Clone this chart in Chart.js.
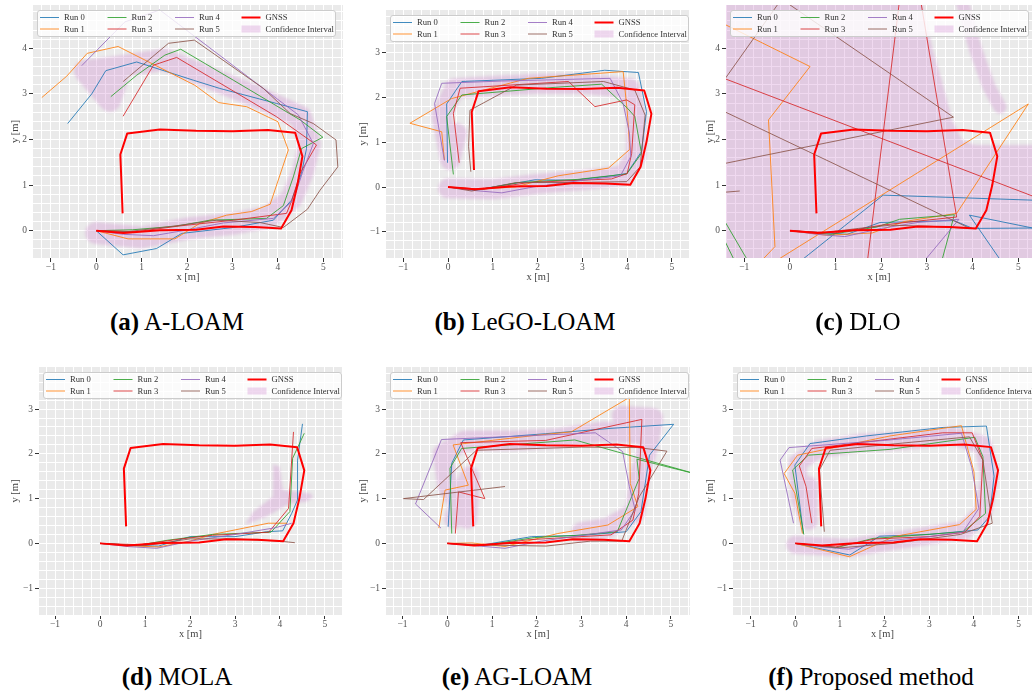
<!DOCTYPE html>
<html>
<head>
<meta charset="utf-8">
<script src="https://cdn.jsdelivr.net/npm/chart.js@4.4.0/dist/chart.umd.min.js"></script>
<style>
  html, body { margin: 0; padding: 0; background: #fff; width: 1032px; height: 693px; overflow: hidden; }
  canvas { position: absolute; }
  .cap { position: absolute; width: 344px; text-align: center; font-family: "Liberation Serif", serif;
         font-size: 25px; line-height: 30px; color: #000; white-space: nowrap; }
</style>
</head>
<body>
<script>
// labels
const runLabels = ['Run 0', 'Run 1', 'Run 2', 'Run 3', 'Run 4', 'Run 5'];
const gnssLabel = 'GNSS';
const ciLabel = 'Confidence Interval';
const panelTags = ['(a)', '(b)', '(c)', '(d)', '(e)', '(f)'];
const methods = ['A-LOAM', 'LeGO-LOAM', 'DLO', 'MOLA', 'AG-LOAM', 'Proposed method'];

// reference trajectory, shared by all panels
const gnss = [[0,0],[0.6,-0.05],[1.4,0.01],[2.2,0.02],[2.8,0.09],[3.5,0.08],[4.07,0.05],[4.3,0.45],[4.43,1.0],[4.54,1.63],[4.38,2.15],[3.78,2.21],[3.0,2.18],[2.2,2.19],[1.4,2.22],[0.68,2.13],[0.53,1.67],[0.58,0.38]];

// (a) A-LOAM
const aRun0 = [[0,0],[0.59,-0.53],[1.33,-0.39],[1.88,-0.06],[3.02,0.07],[3.9,0.23],[4.3,0.67],[4.52,1.26],[4.63,1.8],[4.65,2.61],[3.97,2.79],[2.72,3.12],[2.14,3.3],[0.89,3.7],[0.21,3.51],[-0.1,3.0],[-0.63,2.35]];
const aRun1 = [[0,0],[0.7,-0.18],[1.73,-0.18],[2.28,0.16],[2.87,0.34],[3.42,0.42],[3.83,0.58],[4.23,1.77],[4.0,2.39],[3.31,2.72],[2.69,2.81],[2.17,3.19],[0.48,4.04],[-0.2,3.89],[-0.65,3.39],[-1.2,2.92]];
const aRun2 = [[0,0],[0.8,0.02],[1.77,0.1],[2.5,0.23],[3.75,0.27],[4.12,0.55],[4.34,1.18],[4.52,1.8],[4.99,2.05],[4.49,2.43],[3.02,3.3],[1.86,3.98],[1.51,3.85],[0.89,3.41],[0.32,2.94]];
const aRun3 = [[0,0],[0.9,-0.02],[1.8,0.1],[3.02,0.23],[4.19,0.38],[4.3,0.64],[4.49,1.26],[4.85,1.88],[3.97,2.5],[1.77,3.8],[1.26,3.63],[0.59,2.51]];
const aRun4 = [[0,0],[0.6,-0.08],[1.26,-0.11],[1.9,0.0],[2.8,0.17],[3.9,0.27],[4.34,0.67],[4.55,1.3],[4.78,1.91],[4.45,2.54],[3.97,2.9],[1.4,4.84],[0.63,4.58],[-0.32,3.62]];
const aRun5 = [[0,0],[0.7,-0.02],[1.7,0.1],[2.65,0.23],[3.6,0.18],[4.12,0.07],[4.65,0.47],[4.93,0.89],[5.32,1.4],[5.28,1.99],[4.78,2.35],[4.27,2.57],[3.68,3.12],[2.16,4.18],[1.59,4.11],[0.59,3.27]];
const aCi = [[0,-0.05],[1.0,-0.15],[2.0,0.05],[3.0,0.15],[3.8,0.3],[4.3,0.7],[4.55,1.3],[4.7,1.9],[4.5,2.5],[3.5,2.95],[2.5,3.35],[1.5,3.75],[0.5,3.6],[-0.25,3.5],[0.3,2.85],[0.45,3.3]];

// (b) LeGO-LOAM
const bRun0 = [[0,0],[0.6,-0.07],[1.94,0.16],[2.8,0.15],[3.58,0.24],[3.99,0.3],[4.32,0.79],[4.43,1.68],[4.25,2.55],[3.5,2.6],[2.09,2.42],[0.31,2.35],[-0.03,1.85],[-0.01,0.54]];
const bRun1 = [[0,0],[0.6,-0.05],[1.5,0.0],[2.46,0.25],[3.58,0.42],[4.06,0.84],[4.0,1.7],[3.91,2.57],[1.79,2.42],[0.08,1.97],[-0.85,1.42],[-0.14,1.23],[-0.08,0.6]];
const bRun2 = [[0,0],[0.7,-0.06],[1.57,0.1],[2.9,0.17],[3.99,0.29],[4.32,0.75],[4.17,1.57],[4.01,1.75],[3.43,2.29],[2.39,2.22],[0.31,2.05],[-0.03,1.57],[0.12,0.28]];
const bRun3 = [[0,0],[0.8,-0.05],[1.8,0.1],[3.65,0.18],[4.0,0.3],[4.1,0.75],[4.17,1.83],[3.99,1.94],[3.28,1.79],[2.69,2.35],[0.27,2.2],[0.12,1.64],[0.25,0.54]];
const bRun4 = [[0,0],[0.6,-0.08],[1.2,-0.13],[1.9,0.0],[3.0,0.15],[3.85,0.25],[4.08,0.68],[4.05,1.2],[3.91,1.86],[3.62,2.42],[1.2,2.36],[-0.14,2.31],[-0.3,1.86],[-0.08,0.59]];
const bRun5 = [[0,0],[0.53,-0.09],[1.53,0.1],[2.8,0.1],[3.99,0.12],[4.29,0.45],[4.4,1.6],[4.17,2.16],[3.47,2.35],[1.53,2.27],[0.49,1.71],[0.46,0.9],[0.51,0.34]];
const bCi = [[0,-0.03],[1.0,-0.05],[2.0,0.07],[3.0,0.15],[3.9,0.25],[4.2,0.7],[4.2,1.6],[4.05,2.2],[3.0,2.3],[2.0,2.3],[1.0,2.25],[0.15,2.2],[-0.15,1.6],[0.05,0.6],[0.2,1.2]];

// (c) DLO
const cRun0 = [[0,0],[1.25,-0.08],[1.97,0.18],[3.6,0.22],[4.0,0.05],[5.6,0.06],[5.6,0.0],[3.93,0.34],[4.75,-0.85],[0.0,-0.85],[2.04,0.78],[5.6,0.66]];
const cRun1 = [[0,0],[0.8,-0.1],[1.8,-0.05],[2.5,0.2],[3.65,0.38],[5.22,2.78],[-0.45,-0.75],[-0.71,-0.75],[-0.33,-0.35],[-0.47,2.43],[0.44,3.6],[-1.6,4.61]];
const cRun2 = [[0,0],[0.9,-0.08],[1.9,0.08],[2.4,0.25],[3.6,0.35],[3.3,-0.75],[-0.87,-0.75],[-1.6,0.5],[-1.6,0.13],[-1.17,-0.75]];
const cRun3 = [[0,0],[1.0,-0.05],[2.0,0.12],[2.7,0.2],[3.65,0.3],[2.82,5.3],[2.43,5.3],[1.68,-0.8],[-1.6,-0.8],[-1.6,3.4],[5.6,0.65]];
const cRun4 = [[0,0],[0.6,-0.08],[1.2,-0.13],[2.0,0.05],[2.8,0.18],[3.7,0.25],[2.87,-0.75]];
const cRun5 = [[0,0],[0.7,-0.05],[1.5,0.05],[2.2,0.12],[3.0,0.1],[3.94,0.05],[-1.6,2.69],[-1.6,1.44],[3.58,2.49],[-0.36,5.2],[-0.1,5.2],[-1.6,3.08],[-1.6,0.83],[-1.1,0.87]];
const cCiArea = [[-2,6],[2.7,6],[2.91,4.95],[3.13,3.96],[3.35,3.2],[3.55,2.43],[3.77,1.99],[4.05,1.88],[6,1.88],[6,-1],[-2,-1]];
const cCiStripe = [[3.7,5.4],[3.79,4.95],[4.07,3.96],[4.36,3.15],[4.6,2.71]];

// (d) MOLA
const dRun0 = [[0,0],[0.7,-0.05],[1.3,-0.06],[2.0,0.15],[3.0,0.15],[3.7,0.26],[4.06,0.28],[4.26,0.67],[4.39,0.97],[4.39,1.86],[4.5,2.67]];
const dRun1 = [[0,0],[0.6,-0.05],[1.3,-0.08],[2.0,0.05],[2.5,0.2],[3.74,0.45],[4.16,0.45]];
const dRun2 = [[0,0],[0.8,-0.05],[1.5,0.07],[2.5,0.2],[3.8,0.25],[4.22,0.71],[4.28,1.9],[4.54,2.46]];
const dRun3 = [[0,0],[0.9,-0.03],[1.8,0.1],[2.5,0.18],[3.75,0.25],[4.19,0.78],[4.3,2.49]];
const dRun4 = [[0,0],[0.6,-0.07],[1.26,-0.11],[2.0,0.05],[3.0,0.2],[3.9,0.35],[4.26,0.45]];
const dRun5 = [[0,0],[1.0,-0.05],[2.0,0.1],[3.0,0.1],[4.0,0.05],[4.33,0.015]];
const dCiArea = [[3.85,1.77],[3.99,1.71],[4.06,1.19],[4.67,1.12],[4.74,1.04],[4.59,0.93],[4.22,0.89],[3.7,0.6],[3.22,0.41],[3.41,0.71],[3.84,1.04]];

// (e) AG-LOAM
const eRun0 = [[0,0],[0.7,-0.05],[1.88,0.15],[3.0,0.18],[4.0,0.26],[4.33,0.71],[4.52,1.97],[5.06,2.66],[3.66,2.57],[2.2,2.45],[0.36,2.31],[0.1,1.79],[0.02,0.37]];
const eRun1 = [[0,0],[0.55,0.01],[1.29,-0.07],[2.47,0.22],[3.59,0.41],[4.26,0.82],[4.09,1.34],[4.07,3.26],[2.77,2.49],[2.03,2.42],[0.13,2.2],[0.47,1.3],[-0.05,1.19],[-0.19,0.34]];
const eRun2 = [[0,0],[0.8,-0.05],[1.95,0.13],[2.9,0.18],[3.8,0.26],[4.29,1.45],[4.24,1.88],[5.6,1.54],[2.85,2.31],[0.32,2.12],[0.06,1.68],[0.1,0.22]];
const eRun3 = [[0,0],[0.8,-0.05],[1.8,0.08],[3.66,0.19],[4.15,0.52],[4.28,1.12],[4.35,2.77],[2.2,2.3],[0.3,2.25],[0.84,1.0],[0.25,1.15],[0.18,0.22]];
const eRun4 = [[0,0],[0.6,-0.05],[1.29,-0.11],[2.1,0.05],[3.89,0.3],[4.2,0.75],[4.07,1.27],[3.92,2.05],[3.31,2.47],[-0.13,2.32],[-0.71,0.88],[-0.14,0.34]];
const eRun5 = [[0,0],[1.0,-0.04],[2.21,-0.06],[3.2,0.05],[3.9,0.05],[4.29,1.04],[4.91,2.06],[4.26,2.14],[3.0,2.15],[0.65,2.08],[-0.53,0.98],[-0.98,1.0],[1.29,1.27]];
const eCi = [[3.0,0.25],[3.6,0.35],[4.2,0.7],[4.3,1.5],[4.5,2.2],[4.6,2.8],[3.9,2.85],[4.2,2.45],[3.5,2.5],[2.5,2.35],[1.5,2.3],[0.4,2.3],[-0.1,2.0],[0.0,1.3],[0.45,0.55],[0.5,1.5],[0.15,0.55]];

// (f) Proposed method
const fRun0 = [[0,0],[1.22,-0.26],[1.89,0.16],[3.0,0.2],[4.09,0.3],[4.35,0.6],[4.45,1.5],[4.28,2.62],[3.31,2.59],[1.59,2.4],[0.33,2.23],[-0.01,1.75],[0.18,0.22]];
const fRun1 = [[0,0],[1.21,-0.3],[2.2,0.15],[3.68,0.42],[4.05,0.76],[4.0,1.6],[3.72,2.63],[2.12,2.4],[0.05,1.97],[-0.25,1.56],[-0.01,1.12],[0.16,0.22]];
const fRun2 = [[0,0],[0.9,-0.1],[1.74,0.11],[3.76,0.26],[4.26,0.67],[4.2,1.94],[4.02,2.37],[2.12,2.1],[0.29,1.97],[-0.06,1.64],[0.19,0.2]];
const fRun3 = [[0,0],[0.9,-0.08],[1.8,0.1],[3.0,0.15],[3.8,0.25],[4.13,0.6],[4.2,1.86],[3.96,2.47],[3.3,2.47],[0.37,2.12],[0.09,1.73],[0.24,1.27],[0.37,0.45]];
const fRun4 = [[0,0],[0.6,-0.08],[1.2,-0.13],[2.0,0.05],[3.0,0.15],[3.75,0.25],[4.11,0.78],[3.95,1.7],[3.72,2.46],[2.0,2.3],[-0.14,2.14],[-0.34,1.86],[-0.04,0.45]];
const fRun5 = [[0,0],[1.0,-0.1],[2.2,0.0],[3.7,0.2],[4.41,0.45],[4.2,1.86],[3.9,2.38],[2.5,2.25],[0.78,2.08],[0.54,1.64],[0.65,0.26]];
const fCi = [[0,-0.03],[1.2,-0.1],[2.5,0.1],[3.8,0.3],[4.2,0.7],[4.35,1.5],[4.2,2.2],[3.5,2.4],[2.5,2.3],[1.5,2.25],[0.5,2.1],[0.05,1.8],[0.1,1.0],[0.3,0.5],[0.3,1.3]];

const panelRuns = [
  [aRun0, aRun1, aRun2, aRun3, aRun4, aRun5],
  [bRun0, bRun1, bRun2, bRun3, bRun4, bRun5],
  [cRun0, cRun1, cRun2, cRun3, cRun4, cRun5],
  [dRun0, dRun1, dRun2, dRun3, dRun4, dRun5],
  [eRun0, eRun1, eRun2, eRun3, eRun4, eRun5],
  [fRun0, fRun1, fRun2, fRun3, fRun4, fRun5]
];
const panelCi = [
  { band: aCi }, { band: bCi }, { area: cCiArea, band: cCiStripe }, { area: dCiArea }, { band: eCi }, { band: fCi }
];

// styling / placement (pixels)
const runColors = ['#1f77b4', '#ff7f0e', '#2ca02c', '#d62728', '#9467bd', '#8c564b'];
const gnssColor = '#ff0000';
const ciColor = 'rgba(200,120,200,0.28)';
const panelBg = '#eaeaea';
const serif = '"Liberation Serif", "DejaVu Serif", serif';
const bandWidth = [22, 20, 13, 0, 20, 18];
const layout = [
  { L: 33,  T: 5,   R: 343,  B: 258, xr: [-1.394, 5.434], yr: [-0.599, 4.95], yw: 33, yt: 15,   cx: 177, cy: 322 },
  { L: 386, T: 10,  R: 690,  B: 258, xr: [-1.384, 5.402], yr: [-1.581, 3.942], yw: 36, yt: 13.3, cx: 525, cy: 322 },
  { L: 726, T: 5,   R: 1032, B: 258, xr: [-1.401, 5.30],  yr: [-0.599, 4.95], yw: 36, yt: 20,   cx: 858, cy: 322 },
  { L: 39,  T: 367, R: 342,  B: 615, xr: [-1.356, 5.378], yr: [-1.60, 3.94],  yw: 36, yt: 12,   cx: 177, cy: 677 },
  { L: 386, T: 367, R: 690,  B: 615, xr: [-1.370, 5.426], yr: [-1.60, 3.94],  yw: 36, yt: 13.3, cx: 517, cy: 677 },
  { L: 733, T: 367, R: 1032, B: 615, xr: [-1.395, 5.30],  yr: [-1.60, 3.94],  yw: 36, yt: 13,   cx: 871, cy: 677 }
];

function toRgba(hex, a) {
  const n = parseInt(hex.slice(1), 16);
  return `rgba(${n >> 16},${(n >> 8) & 255},${n & 255},${a})`;
}
function isInt(v) { return Math.abs(v - Math.round(v)) < 1e-6; }
function tickLabel(v) {
  if (!isInt(v)) return '';
  const r = Math.round(v);
  return r < 0 ? '\u2212' + (-r) : String(r);
}
function gridTicks(min, max) {
  const out = [];
  for (let k = Math.ceil(min / 0.2 - 1e-9); k <= Math.floor(max / 0.2 + 1e-9); k++) {
    out.push({ value: +(k * 0.2).toFixed(6) });
  }
  return out;
}

const bgPlugin = {
  id: 'panelBg',
  beforeDraw(chart) {
    const { ctx, chartArea: a } = chart;
    ctx.save();
    ctx.fillStyle = panelBg;
    ctx.fillRect(a.left, a.top, a.right - a.left, a.bottom - a.top);
    ctx.restore();
  }
};

// soft edges for the confidence interval
const blurPlugin = {
  id: 'ciBlur',
  beforeDatasetsDraw(chart) { chart.ctx.save(); chart.ctx.filter = 'blur(1.5px)'; },
  beforeDatasetDraw(chart, args) {
    if (!chart.data.datasets[args.index].isCi) chart.ctx.filter = 'none';
  },
  afterDatasetsDraw(chart) { chart.ctx.filter = 'none'; chart.ctx.restore(); }
};

const legendItems = [
  { label: runLabels[0], color: toRgba(runColors[0], 0.85), w: 1 },
  { label: runLabels[1], color: toRgba(runColors[1], 0.85), w: 1 },
  { label: runLabels[2], color: toRgba(runColors[2], 0.85), w: 1 },
  { label: runLabels[3], color: toRgba(runColors[3], 0.85), w: 1 },
  { label: runLabels[4], color: toRgba(runColors[4], 0.85), w: 1 },
  { label: runLabels[5], color: toRgba(runColors[5], 0.85), w: 1 },
  { label: gnssLabel, color: gnssColor, w: 2 },
  { label: ciLabel, color: ciColor, patch: true }
];
const legendPlugin = {
  id: 'boxLegend',
  afterDatasetsDraw(chart) {
    const { ctx, chartArea: a } = chart;
    const bx = Math.round(a.left) + 4.5, by = Math.round(a.top) + 5.5, bw = 298, bh = 26;
    const colX = [2.5, 70, 137.5, 204], rowY = [7, 18.5];
    ctx.save();
    ctx.beginPath();
    if (ctx.roundRect) ctx.roundRect(bx, by, bw, bh, 2.5); else ctx.rect(bx, by, bw, bh);
    ctx.fillStyle = 'rgba(255,255,255,0.8)';
    ctx.fill();
    ctx.strokeStyle = '#cccccc';
    ctx.lineWidth = 1;
    ctx.stroke();
    ctx.font = '8.6px ' + serif;
    ctx.textBaseline = 'middle';
    legendItems.forEach((it, i) => {
      const lx = bx + colX[Math.floor(i / 2)], ly = by + rowY[i % 2];
      if (it.patch) {
        ctx.fillStyle = it.color;
        ctx.fillRect(lx, ly - 3.5, 19, 7);
      } else {
        ctx.strokeStyle = it.color;
        ctx.lineWidth = it.w;
        ctx.beginPath();
        ctx.moveTo(lx, ly);
        ctx.lineTo(lx + 19, ly);
        ctx.stroke();
      }
      ctx.fillStyle = '#333';
      ctx.fillText(it.label, lx + 24, ly + 0.5);
    });
    ctx.restore();
  }
};

function axis(range, isX, lay) {
  return {
    type: 'linear',
    min: range[0],
    max: range[1],
    bounds: 'data',
    afterBuildTicks: s => { s.ticks = gridTicks(range[0], range[1]); },
    afterFit: s => {
      if (isX) s.height = 28; else s.width = lay.yw;
      s.paddingLeft = s.paddingRight = s.paddingTop = s.paddingBottom = 0;
    },
    border: { display: false },
    grid: {
      color: '#ffffff',
      lineWidth: 1,
      drawTicks: true,
      tickLength: 4,
      tickWidth: 1,
      tickColor: c => (c.tick && isInt(c.tick.value)) ? '#333333' : 'rgba(0,0,0,0)'
    },
    ticks: {
      autoSkip: false,
      maxRotation: 0,
      padding: isX ? 0 : 2,
      color: '#555555',
      font: { family: serif, size: 9.5 },
      callback: v => tickLabel(v)
    },
    title: {
      display: true,
      text: isX ? 'x [m]' : 'y [m]',
      color: '#444444',
      font: { family: serif, size: 10.5, lineHeight: 1 },
      padding: isX ? { top: 0, bottom: 3.5 } : { top: lay.yt - 5.25, bottom: 0 }
    }
  };
}

layout.forEach((lay, p) => {
  const left = lay.L - lay.yw, top = lay.T - 8;
  const w = lay.R + 2 - left, h = lay.B + 28 - top;
  const cv = document.createElement('canvas');
  cv.width = w; cv.height = h;
  cv.style.left = left + 'px'; cv.style.top = top + 'px';
  cv.style.width = w + 'px'; cv.style.height = h + 'px';
  document.body.appendChild(cv);

  const common = { showLine: true, pointRadius: 0, pointHoverRadius: 0, tension: 0, borderJoinStyle: 'round' };
  const datasets = [];
  datasets.push(Object.assign({ label: gnssLabel, data: gnss, borderColor: gnssColor, borderWidth: 2, fill: false, order: 0 }, common));
  panelRuns[p].forEach((run, i) => {
    datasets.push(Object.assign({ label: runLabels[i], data: run, borderColor: toRgba(runColors[i], 0.85), borderWidth: 1, fill: false, order: 6 - i }, common));
  });
  const ci = panelCi[p];
  if (ci.area) {
    datasets.push(Object.assign({ label: ciLabel, data: ci.area, isCi: true, borderWidth: 0, borderColor: 'rgba(0,0,0,0)', backgroundColor: ciColor, fill: 'shape', order: 20 }, common));
  }
  if (ci.band) {
    datasets.push(Object.assign({ label: ciLabel, data: ci.band, isCi: true, borderWidth: bandWidth[p], borderColor: ciColor, fill: false, order: 19 }, common, { borderCapStyle: 'round' }));
  }

  new Chart(cv, {
    type: 'scatter',
    data: { datasets },
    options: {
      responsive: false,
      animation: false,
      devicePixelRatio: 1,
      events: [],
      layout: { padding: { top: 8, right: 2, left: 0, bottom: 0 } },
      plugins: { legend: { display: false }, tooltip: { enabled: false } },
      scales: { x: axis(lay.xr, true, lay), y: axis(lay.yr, false, lay) }
    },
    plugins: [bgPlugin, blurPlugin, legendPlugin]
  });

  const cap = document.createElement('div');
  cap.className = 'cap';
  cap.style.left = (lay.cx - 172) + 'px';
  cap.style.top = (lay.cy - 15) + 'px';
  const b = document.createElement('b');
  b.textContent = panelTags[p];
  cap.appendChild(b);
  cap.appendChild(document.createTextNode(' ' + methods[p]));
  document.body.appendChild(cap);
});
</script>
</body>
</html>
